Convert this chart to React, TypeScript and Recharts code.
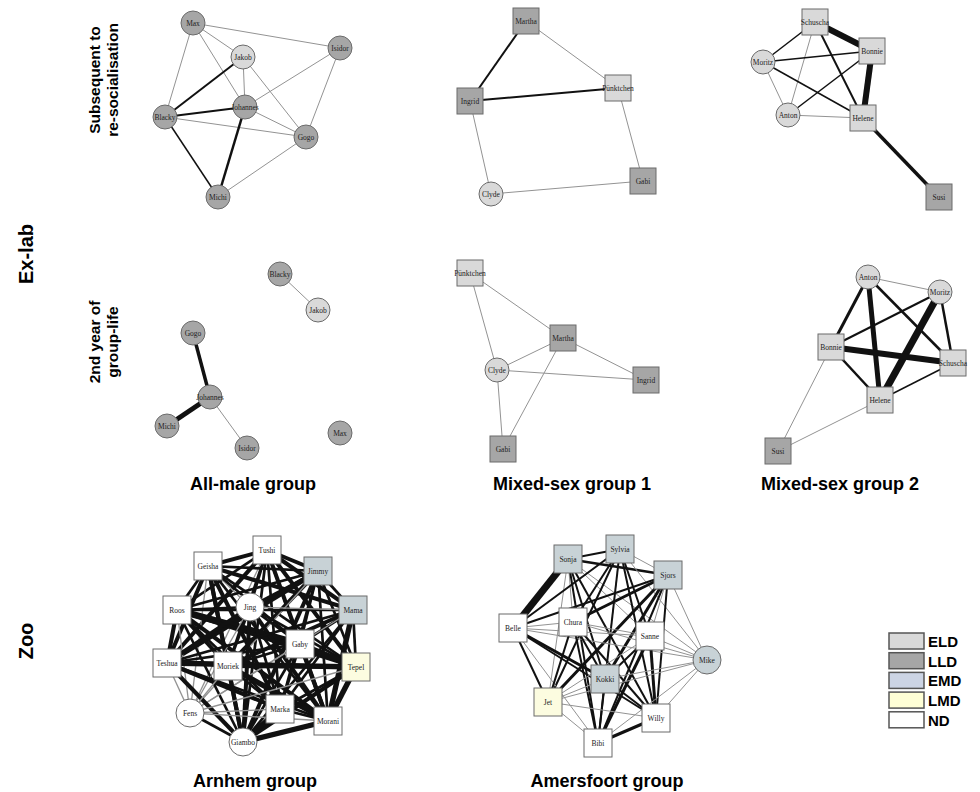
import React from "react";
import { ScatterChart, Scatter, XAxis, YAxis } from "recharts";

// node = [name, x, y, class, sex]   (circle = male, square = female)
type Node = [string, number, number, string, "m" | "f"];
type Edge = [string, string, number];

const maleSubNodes: Node[] = [
  ["Max", 193, 23, "LLD", "m"],
  ["Jakob", 243, 57, "ELD", "m"],
  ["Isidor", 340, 48, "LLD", "m"],
  ["Johannes", 245, 107, "LLD", "m"],
  ["Blacky", 165, 117, "LLD", "m"],
  ["Gogo", 306, 137, "LLD", "m"],
  ["Michi", 218, 197, "LLD", "m"],
];
const maleSubEdges: Edge[] = [
  ["Max", "Isidor", 1], ["Max", "Jakob", 1], ["Max", "Johannes", 1], ["Max", "Blacky", 1],
  ["Jakob", "Blacky", 2], ["Jakob", "Johannes", 1], ["Jakob", "Gogo", 1],
  ["Isidor", "Johannes", 1], ["Isidor", "Gogo", 1],
  ["Blacky", "Johannes", 2], ["Blacky", "Gogo", 1], ["Blacky", "Michi", 1.5],
  ["Johannes", "Michi", 2.5], ["Johannes", "Gogo", 1], ["Gogo", "Michi", 1],
];

const mixed1SubNodes: Node[] = [
  ["Martha", 526, 21, "LLD", "f"],
  ["Pünktchen", 618, 88, "ELD", "f"],
  ["Ingrid", 470, 101, "LLD", "f"],
  ["Clyde", 491, 194, "ELD", "m"],
  ["Gabi", 643, 181, "LLD", "f"],
];
const mixed1SubEdges: Edge[] = [
  ["Martha", "Ingrid", 2], ["Martha", "Pünktchen", 1], ["Ingrid", "Pünktchen", 2],
  ["Ingrid", "Clyde", 1], ["Pünktchen", "Gabi", 1], ["Clyde", "Gabi", 1],
];

const mixed2SubNodes: Node[] = [
  ["Schuscha", 815, 22, "ELD", "f"],
  ["Bonnie", 872, 51, "ELD", "f"],
  ["Moritz", 763, 62, "ELD", "m"],
  ["Anton", 788, 115, "ELD", "m"],
  ["Helene", 863, 118, "ELD", "f"],
  ["Susi", 939, 197, "LLD", "f"],
];
const mixed2SubEdges: Edge[] = [
  ["Schuscha", "Bonnie", 6], ["Bonnie", "Helene", 6], ["Helene", "Susi", 3.5],
  ["Schuscha", "Moritz", 1.5], ["Schuscha", "Anton", 1], ["Schuscha", "Helene", 2],
  ["Moritz", "Bonnie", 1.5], ["Moritz", "Anton", 1], ["Moritz", "Helene", 1.5],
  ["Anton", "Bonnie", 1.5], ["Anton", "Helene", 1],
];

const male2ndNodes: Node[] = [
  ["Blacky", 280, 274, "LLD", "m"],
  ["Jakob", 318, 310, "ELD", "m"],
  ["Gogo", 193, 333, "LLD", "m"],
  ["Johannes", 210, 397, "LLD", "m"],
  ["Michi", 167, 426, "LLD", "m"],
  ["Isidor", 247, 448, "LLD", "m"],
  ["Max", 340, 433, "LLD", "m"],
];
const male2ndEdges: Edge[] = [
  ["Blacky", "Jakob", 1], ["Gogo", "Johannes", 3.5], ["Johannes", "Michi", 5], ["Johannes", "Isidor", 1],
];

const mixed1_2ndNodes: Node[] = [
  ["Pünktchen", 470, 273, "ELD", "f"],
  ["Martha", 563, 338, "LLD", "f"],
  ["Clyde", 497, 370, "ELD", "m"],
  ["Ingrid", 646, 380, "LLD", "f"],
  ["Gabi", 503, 449, "LLD", "f"],
];
const mixed1_2ndEdges: Edge[] = [
  ["Pünktchen", "Martha", 1], ["Pünktchen", "Clyde", 1], ["Martha", "Clyde", 1],
  ["Martha", "Ingrid", 1], ["Martha", "Gabi", 1], ["Clyde", "Ingrid", 1], ["Clyde", "Gabi", 1],
];

const mixed2_2ndNodes: Node[] = [
  ["Anton", 868, 277, "ELD", "m"],
  ["Moritz", 940, 292, "ELD", "m"],
  ["Bonnie", 831, 347, "ELD", "f"],
  ["Schuscha", 953, 363, "ELD", "f"],
  ["Helene", 880, 400, "ELD", "f"],
  ["Susi", 778, 451, "LLD", "f"],
];
const mixed2_2ndEdges: Edge[] = [
  ["Anton", "Moritz", 1], ["Anton", "Bonnie", 3], ["Anton", "Helene", 5], ["Anton", "Schuscha", 2.5],
  ["Moritz", "Bonnie", 2], ["Moritz", "Helene", 7], ["Moritz", "Schuscha", 2.5],
  ["Bonnie", "Schuscha", 6], ["Bonnie", "Helene", 2.5], ["Helene", "Schuscha", 1.5],
  ["Bonnie", "Susi", 1], ["Helene", "Susi", 1],
];

const arnhemNodes: Node[] = [
  ["Tushi", 267, 550, "ND", "f"],
  ["Geisha", 208, 566, "ND", "f"],
  ["Jimmy", 318, 571, "EMD", "f"],
  ["Roos", 177, 610, "ND", "f"],
  ["Jing", 250, 607, "ND", "m"],
  ["Mama", 353, 610, "EMD", "f"],
  ["Gaby", 300, 644, "ND", "f"],
  ["Teshua", 167, 663, "ND", "f"],
  ["Moriek", 228, 666, "ND", "f"],
  ["Tepel", 356, 667, "LMD", "f"],
  ["Fens", 190, 713, "ND", "m"],
  ["Marka", 280, 709, "ND", "f"],
  ["Morani", 328, 721, "ND", "f"],
  ["Giambo", 243, 742, "ND", "m"],
];
const arnhemEdges: Edge[] = [
  ["Tushi", "Geisha", 3], ["Tushi", "Jimmy", 3], ["Tushi", "Roos", 2], ["Tushi", "Jing", 2], ["Tushi", "Mama", 3],
  ["Tushi", "Gaby", 2], ["Tushi", "Teshua", 3], ["Tushi", "Moriek", 2], ["Tushi", "Tepel", 3], ["Tushi", "Fens", 1],
  ["Tushi", "Marka", 2], ["Tushi", "Morani", 3], ["Tushi", "Giambo", 2],
  ["Geisha", "Jimmy", 2], ["Geisha", "Roos", 2], ["Geisha", "Jing", 1], ["Geisha", "Mama", 3], ["Geisha", "Gaby", 2],
  ["Geisha", "Teshua", 3], ["Geisha", "Moriek", 3], ["Geisha", "Tepel", 2], ["Geisha", "Fens", 1], ["Geisha", "Marka", 3],
  ["Geisha", "Morani", 2], ["Geisha", "Giambo", 3],
  ["Jimmy", "Roos", 2], ["Jimmy", "Jing", 2], ["Jimmy", "Mama", 2], ["Jimmy", "Gaby", 2], ["Jimmy", "Teshua", 4],
  ["Jimmy", "Moriek", 3], ["Jimmy", "Tepel", 2], ["Jimmy", "Fens", 1], ["Jimmy", "Marka", 2], ["Jimmy", "Morani", 2],
  ["Jimmy", "Giambo", 3],
  ["Roos", "Jing", 2], ["Roos", "Mama", 2], ["Roos", "Gaby", 5], ["Roos", "Teshua", 3], ["Roos", "Moriek", 3],
  ["Roos", "Tepel", 3], ["Roos", "Fens", 1], ["Roos", "Marka", 2], ["Roos", "Morani", 3], ["Roos", "Giambo", 2],
  ["Jing", "Mama", 1], ["Jing", "Gaby", 2], ["Jing", "Teshua", 3], ["Jing", "Moriek", 2], ["Jing", "Tepel", 2],
  ["Jing", "Fens", 1], ["Jing", "Marka", 2], ["Jing", "Morani", 3], ["Jing", "Giambo", 3],
  ["Mama", "Gaby", 2], ["Mama", "Teshua", 2], ["Mama", "Moriek", 3], ["Mama", "Tepel", 2], ["Mama", "Fens", 1],
  ["Mama", "Marka", 2], ["Mama", "Morani", 4], ["Mama", "Giambo", 2],
  ["Gaby", "Teshua", 2], ["Gaby", "Moriek", 2], ["Gaby", "Tepel", 4], ["Gaby", "Fens", 1], ["Gaby", "Marka", 2],
  ["Gaby", "Morani", 3], ["Gaby", "Giambo", 2],
  ["Teshua", "Moriek", 2], ["Teshua", "Tepel", 4], ["Teshua", "Fens", 1], ["Teshua", "Marka", 3], ["Teshua", "Morani", 2],
  ["Teshua", "Giambo", 3],
  ["Moriek", "Tepel", 3], ["Moriek", "Fens", 1], ["Moriek", "Marka", 2], ["Moriek", "Morani", 4], ["Moriek", "Giambo", 3],
  ["Tepel", "Fens", 1], ["Tepel", "Marka", 2], ["Tepel", "Morani", 4], ["Tepel", "Giambo", 3],
  ["Fens", "Marka", 1], ["Fens", "Morani", 1], ["Fens", "Giambo", 2],
  ["Marka", "Morani", 2], ["Marka", "Giambo", 4], ["Morani", "Giambo", 4],
];

const amersfoortNodes: Node[] = [
  ["Sonja", 568, 559, "EMD", "f"],
  ["Sylvia", 620, 549, "EMD", "f"],
  ["Sjors", 668, 575, "EMD", "f"],
  ["Belle", 513, 628, "ND", "f"],
  ["Chura", 573, 622, "ND", "f"],
  ["Sanne", 650, 636, "ND", "f"],
  ["Mike", 707, 660, "EMD", "m"],
  ["Kokki", 605, 679, "EMD", "f"],
  ["Jet", 548, 702, "LMD", "f"],
  ["Willy", 656, 718, "ND", "f"],
  ["Bibi", 598, 743, "ND", "f"],
];
const amersfoortEdges: Edge[] = [
  ["Sonja", "Sylvia", 2], ["Sonja", "Sjors", 2.5], ["Sonja", "Belle", 7], ["Sonja", "Chura", 1], ["Sonja", "Sanne", 1],
  ["Sonja", "Mike", 1], ["Sonja", "Kokki", 2], ["Sonja", "Jet", 1], ["Sonja", "Willy", 2], ["Sonja", "Bibi", 2],
  ["Sylvia", "Sjors", 1], ["Sylvia", "Belle", 2], ["Sylvia", "Chura", 2], ["Sylvia", "Sanne", 2], ["Sylvia", "Mike", 1],
  ["Sylvia", "Kokki", 1], ["Sylvia", "Jet", 2], ["Sylvia", "Willy", 2], ["Sylvia", "Bibi", 2],
  ["Sjors", "Belle", 2], ["Sjors", "Chura", 3], ["Sjors", "Sanne", 1], ["Sjors", "Mike", 1], ["Sjors", "Kokki", 3],
  ["Sjors", "Jet", 3], ["Sjors", "Willy", 2], ["Sjors", "Bibi", 2],
  ["Belle", "Chura", 1], ["Belle", "Sanne", 1], ["Belle", "Mike", 1], ["Belle", "Kokki", 3], ["Belle", "Jet", 2],
  ["Belle", "Willy", 2], ["Belle", "Bibi", 1],
  ["Chura", "Sanne", 1], ["Chura", "Mike", 1], ["Chura", "Kokki", 2], ["Chura", "Jet", 2], ["Chura", "Willy", 2],
  ["Chura", "Bibi", 2],
  ["Sanne", "Mike", 1], ["Sanne", "Kokki", 2], ["Sanne", "Jet", 1], ["Sanne", "Willy", 3], ["Sanne", "Bibi", 3],
  ["Mike", "Kokki", 1], ["Mike", "Jet", 1], ["Mike", "Willy", 1], ["Mike", "Bibi", 1],
  ["Kokki", "Jet", 1], ["Kokki", "Willy", 2], ["Kokki", "Bibi", 2],
  ["Jet", "Willy", 1], ["Jet", "Bibi", 1], ["Willy", "Bibi", 3],
];

const classes = ["ELD", "LLD", "EMD", "LMD", "ND"];
const classFill: Record<string, string> = {
  ELD: "#d9d9d9",
  LLD: "#a6a6a6",
  EMD: "#c8d2d6",
  LMD: "#fcfce0",
  ND: "#ffffff",
};
const legendFill: Record<string, string> = { ...classFill, EMD: "#ccd4e4", LMD: "#ffffd6" };

// widthScale: Arnhem is drawn with heavier strokes
const panels = [
  { nodes: maleSubNodes, edges: maleSubEdges, r: 12, side: 26, widthScale: 1 },
  { nodes: mixed1SubNodes, edges: mixed1SubEdges, r: 12, side: 26, widthScale: 1 },
  { nodes: mixed2SubNodes, edges: mixed2SubEdges, r: 12, side: 26, widthScale: 1 },
  { nodes: male2ndNodes, edges: male2ndEdges, r: 12, side: 26, widthScale: 1 },
  { nodes: mixed1_2ndNodes, edges: mixed1_2ndEdges, r: 12, side: 26, widthScale: 1 },
  { nodes: mixed2_2ndNodes, edges: mixed2_2ndEdges, r: 12, side: 26, widthScale: 1 },
  { nodes: arnhemNodes, edges: arnhemEdges, r: 14, side: 28, widthScale: 1.35 },
  { nodes: amersfoortNodes, edges: amersfoortEdges, r: 14, side: 28, widthScale: 1 },
];

const SERIF = "'Liberation Serif', 'Times New Roman', serif";
const SANS = "'Liberation Sans', Arial, sans-serif";

function nodeShape(r: number, side: number) {
  return (props: any) => {
    const { cx, cy, payload } = props;
    const fill = classFill[payload.cls];
    return (
      <g>
        {payload.sex === "m" ? (
          <circle cx={cx} cy={cy} r={r} fill={fill} stroke="#6b6b6b" strokeWidth={1} />
        ) : (
          <rect x={cx - side / 2} y={cy - side / 2} width={side} height={side} fill={fill} stroke="#6b6b6b" strokeWidth={1} />
        )}
        <text x={cx} y={cy + 2.6} textAnchor="middle" fontSize={7.5} fontFamily={SERIF} fill="#222">
          {payload.name}
        </text>
      </g>
    );
  };
}

const noDot = () => <g />;

export default function App() {
  return (
    <div style={{ position: "absolute", left: 0, top: 0, width: 980, height: 792, background: "#fff" }}>
      <ScatterChart width={980} height={792} margin={{ top: 0, right: 0, bottom: 0, left: 0 }}>
        <XAxis type="number" dataKey="x" domain={[0, 980]} hide />
        <YAxis type="number" dataKey="y" domain={[0, 792]} reversed hide />
        {panels.flatMap((p, pi) =>
          p.edges.map(([a, b, w], ei) => {
            const na = p.nodes.find((n) => n[0] === a)!;
            const nb = p.nodes.find((n) => n[0] === b)!;
            return (
              <Scatter
                key={`e${pi}-${ei}`}
                data={[{ x: na[1], y: na[2] }, { x: nb[1], y: nb[2] }]}
                line={{ stroke: w <= 1 ? "#939393" : "#111", strokeWidth: w * p.widthScale }}
                shape={noDot}
                legendType="none"
                isAnimationActive={false}
              />
            );
          })
        )}
        {panels.map((p, pi) => (
          <Scatter
            key={`n${pi}`}
            data={p.nodes.map(([name, x, y, cls, sex]) => ({ name, x, y, cls, sex }))}
            shape={nodeShape(p.r, p.side)}
            legendType="none"
            isAnimationActive={false}
          />
        ))}
      </ScatterChart>
      <svg width={980} height={792} style={{ position: "absolute", left: 0, top: 0, pointerEvents: "none" }}>
        <g fontFamily={SANS} fontWeight="bold" fill="#000">
          <text transform="translate(33,254) rotate(-90)" textAnchor="middle" fontSize={20}>Ex-lab</text>
          <text transform="translate(33,641) rotate(-90)" textAnchor="middle" fontSize={20}>Zoo</text>
          <text transform="translate(100,80) rotate(-90)" textAnchor="middle" fontSize={15.5}>Subsequent to</text>
          <text transform="translate(118,80) rotate(-90)" textAnchor="middle" fontSize={15.5}>re-socialisation</text>
          <text transform="translate(100,342) rotate(-90)" textAnchor="middle" fontSize={15.5}>2nd year of</text>
          <text transform="translate(118,342) rotate(-90)" textAnchor="middle" fontSize={15.5}>group-life</text>
          <text x={253} y={490} textAnchor="middle" fontSize={18}>All-male group</text>
          <text x={572} y={490} textAnchor="middle" fontSize={18}>Mixed-sex group 1</text>
          <text x={761} y={490} fontSize={18}>Mixed-sex group 2</text>
          <text x={255} y={787} textAnchor="middle" fontSize={18}>Arnhem group</text>
          <text x={607} y={787} textAnchor="middle" fontSize={18}>Amersfoort group</text>
          {classes.map((c, i) => (
            <g key={c}>
              <rect x={889} y={633 + i * 19.7} width={35} height={16} fill={legendFill[c]} stroke="#555" strokeWidth={1.5} />
              <text x={928} y={647 + i * 19.7} fontSize={15}>{c}</text>
            </g>
          ))}
        </g>
      </svg>
    </div>
  );
}
